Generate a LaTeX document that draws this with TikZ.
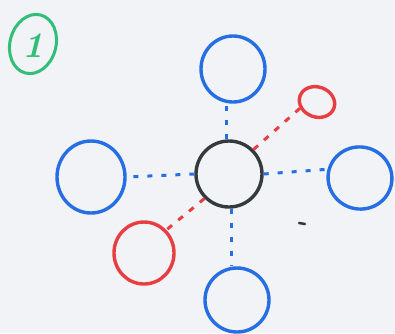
\documentclass[tikz,border=0pt]{standalone}
\usetikzlibrary{shapes.geometric}
\definecolor{penblue}{RGB}{38,110,228}
\definecolor{penred}{RGB}{232,62,66}
\definecolor{pengreen}{RGB}{48,190,120}
\definecolor{penblack}{RGB}{52,58,62}
\definecolor{paper}{RGB}{241,243,246}
\tikzset{
  blob/.style={ellipse, draw, line width=3.4pt, inner sep=0pt},
  bluelink/.style={penblue, line width=3pt, dash pattern=on 5pt off 9pt},
  redlink/.style={penred, line width=3pt, dash pattern=on 6pt off 8pt},
}
\begin{document}
\begin{tikzpicture}[x=1pt,y=-1pt]
\fill[paper] (0,0) rectangle (395,333);
\useasboundingbox (0,0) rectangle (395,333);
% label
\node[blob, pengreen, line width=3pt, minimum width=46pt, minimum height=60pt, rotate=-15] (lab) at (33,44) {};
\node[pengreen, font=\fontsize{36}{36}\selectfont\bfseries\itshape] (labtext) at (33,46) {1};
% nodes
\node[blob, penblack, minimum width=66pt, minimum height=66pt] (c) at (229,174) {};
\node[blob, penblue, minimum width=64pt, minimum height=66pt] (t) at (233,69) {};
\node[blob, penblue, minimum width=68pt, minimum height=72pt] (l) at (91,177) {};
\node[blob, penblue, minimum width=64pt, minimum height=62pt, rotate=-15] (r) at (360,178) {};
\node[blob, penblue, minimum width=64pt, minimum height=64pt] (b) at (237,300) {};
\node[blob, penred, minimum width=36pt, minimum height=30pt, rotate=-20] (ru) at (317,102) {};
\node[blob, penred, minimum width=60pt, minimum height=62pt] (ll) at (144,253) {};
% connectors
\draw[bluelink] (c.north -| 226,0) -- (t.south -| 226,0);
\draw[bluelink] (c.west) -- (l.east);
\draw[bluelink] (c.east) -- (r.west);
\draw[bluelink] (c.south -| 231,0) -- (b.north -| 231,0);
\draw[redlink] (c.north east) -- (ru.south west);
\draw[redlink] (c.south west) -- (ll.north east);
% smudge
\draw[penblack, line width=2.5pt, line cap=round] (299,223) -- (305,224);
\end{tikzpicture}
\end{document}
